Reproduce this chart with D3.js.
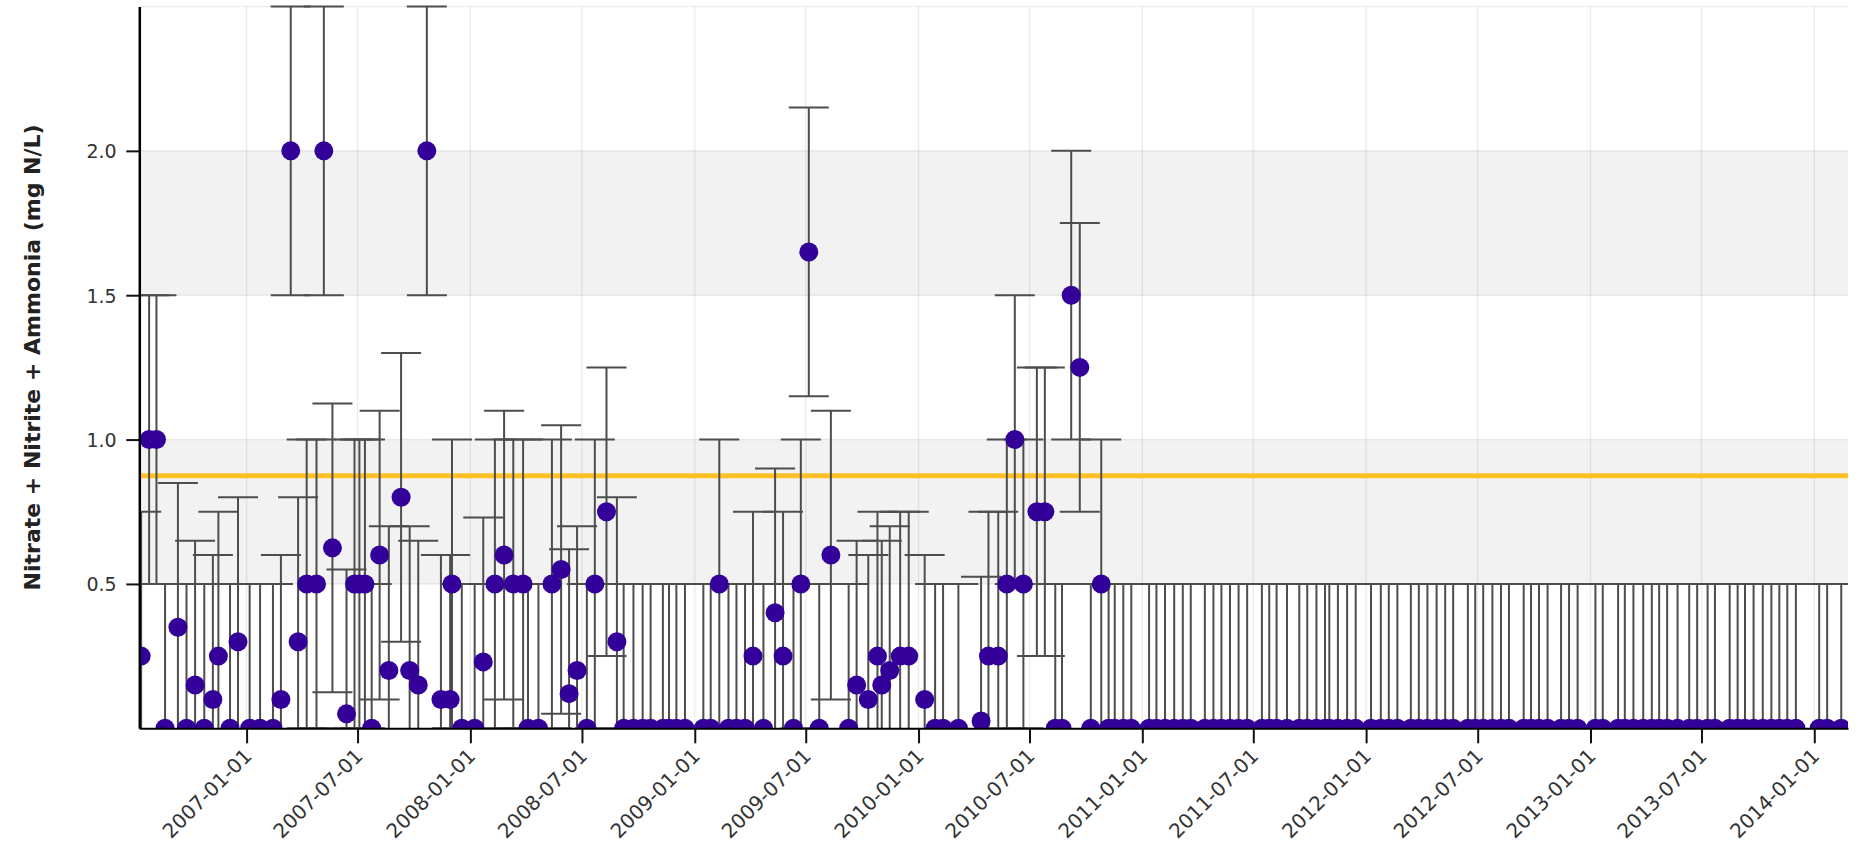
<!DOCTYPE html>
<html>
<head>
<meta charset="utf-8">
<script src="https://cdn.jsdelivr.net/npm/d3@7"></script>
<style>
  html, body { margin: 0; padding: 0; background: #ffffff; }
  svg { display: block; }
</style>
</head>
<body>
<svg id="chart" width="1858" height="850"></svg>
<script>
// ---------------- DATA ----------------
const dates2006  = ["2006-07-13","2006-07-26","2006-08-07","2006-08-21","2006-09-11","2006-09-25","2006-10-09","2006-10-24","2006-11-07","2006-11-16","2006-12-05","2006-12-18"];
const values2006 = [0.25, 1.0, 1.0, 0, 0.35, 0, 0.15, 0, 0.1, 0.25, 0, 0.3];

const dates2007  = ["2007-01-06","2007-01-23","2007-02-13","2007-02-26","2007-03-14","2007-03-26","2007-04-09","2007-04-25","2007-05-07","2007-05-21","2007-06-13","2007-06-26","2007-07-04","2007-07-13","2007-07-24","2007-08-06","2007-08-21","2007-09-10","2007-09-24","2007-10-08","2007-10-22","2007-11-14","2007-11-29","2007-12-02","2007-12-18"];
const values2007 = [0, 0, 0, 0.1, 2.0, 0.3, 0.5, 0.5, 2.0, 0.625, 0.05, 0.5, 0.5, 0.5, 0, 0.6, 0.2, 0.8, 0.2, 0.15, 2.0, 0.1, 0.1, 0.5, 0];

const dates2008  = ["2008-01-08","2008-01-22","2008-02-10","2008-02-25","2008-03-11","2008-03-27","2008-04-04","2008-04-21","2008-05-13","2008-05-28","2008-06-10","2008-06-23","2008-07-09","2008-07-22","2008-08-10","2008-08-27","2008-09-07","2008-09-23","2008-10-08","2008-10-21","2008-11-10","2008-11-20","2008-12-02","2008-12-16"];
const values2008 = [0, 0.23, 0.5, 0.6, 0.5, 0.5, 0, 0, 0.5, 0.55, 0.12, 0.2, 0, 0.5, 0.75, 0.3, 0, 0, 0, 0, 0, 0, 0, 0];

const dates2009  = ["2009-01-15","2009-01-27","2009-02-10","2009-02-25","2009-03-10","2009-03-24","2009-04-06","2009-04-23","2009-05-12","2009-05-25","2009-06-11","2009-06-23","2009-07-06","2009-07-23","2009-08-11","2009-09-09","2009-09-22","2009-10-11","2009-10-26","2009-11-02","2009-11-15","2009-12-02","2009-12-16"];
const values2009 = [0, 0, 0.5, 0, 0, 0, 0.25, 0, 0.4, 0.25, 0, 0.5, 1.65, 0, 0.6, 0, 0.15, 0.1, 0.25, 0.15, 0.2, 0.25, 0.25];

const dates2010  = ["2010-01-11","2010-01-28","2010-02-10","2010-03-07","2010-04-13","2010-04-25","2010-05-11","2010-05-25","2010-06-07","2010-06-21","2010-07-13","2010-07-26","2010-08-12","2010-08-23","2010-09-07","2010-09-21","2010-10-09","2010-10-26","2010-11-07","2010-11-17","2010-12-01","2010-12-14"];
const values2010 = [0.1, 0, 0, 0, 0.025, 0.25, 0.25, 0.5, 1.0, 0.5, 0.75, 0.75, 0, 0, 1.5, 1.25, 0, 0.5, 0, 0, 0, 0];

const dates2011  = ["2011-01-12","2011-01-24","2011-02-07","2011-02-22","2011-03-08","2011-03-21","2011-04-13","2011-04-27","2011-05-10","2011-05-24","2011-06-07","2011-06-21","2011-07-15","2011-07-27","2011-08-08","2011-08-25","2011-09-14","2011-09-27","2011-10-12","2011-10-26","2011-11-02","2011-11-16","2011-12-01","2011-12-15"];
const values2011 = [0,0,0,0,0,0,0,0,0,0,0,0,0,0,0,0,0,0,0,0,0,0,0,0];

const dates2012  = ["2012-01-09","2012-01-25","2012-02-07","2012-02-21","2012-03-14","2012-03-27","2012-04-10","2012-04-25","2012-05-09","2012-05-22","2012-06-15","2012-06-27","2012-07-10","2012-07-25","2012-08-08","2012-08-21","2012-09-14","2012-09-26","2012-10-09","2012-10-23","2012-11-14","2012-11-27","2012-12-11"];
const values2012 = [0,0,0,0,0,0,0,0,0,0,0,0,0,0,0,0,0,0,0,0,0,0,0];

const dates2013  = ["2013-01-09","2013-01-21","2013-02-15","2013-02-26","2013-03-12","2013-03-28","2013-04-11","2013-04-23","2013-05-06","2013-05-23","2013-06-11","2013-06-24","2013-07-11","2013-07-23","2013-08-16","2013-08-29","2013-09-10","2013-09-24","2013-10-09","2013-10-23","2013-11-05","2013-11-18","2013-12-02"];
const values2013 = [0,0,0,0,0,0,0,0,0,0,0,0,0,0,0,0,0,0,0,0,0,0,0];

const dates2014  = ["2014-01-09","2014-01-22","2014-02-14"];
const values2014 = [0, 0, 0];

const errorHalfWidth = 0.5;          // every error bar spans value ± 0.5
const guidelineValue = 0.875;        // orange reference line
const xTickDates = ["2007-01-01","2007-07-01","2008-01-01","2008-07-01","2009-01-01","2009-07-01","2010-01-01","2010-07-01","2011-01-01","2011-07-01","2012-01-01","2012-07-01","2013-01-01","2013-07-01","2014-01-01"];
const yTickValues = [0.5, 1.0, 1.5, 2.0];
const yGridValues = [0.5, 1.0, 1.5, 2.0, 2.5];
const yBands = [[0.5, 1.0], [1.5, 2.0]];
const xDomainDates = ["2006-07-10", "2014-02-25"];
const yDomainValues = [0, 2.5];
const yTitle = "Nitrate + Nitrite + Ammonia (mg N/L)";

// ---------------- LAYOUT ----------------
const W = 1858, H = 850;
const plotLeft = 139.3, plotRight = 1848, plotTop = 6.5, plotBottom = 728.3;
const FONT = "'DejaVu Sans', Verdana, sans-serif";

const parse = d3.utcParse("%Y-%m-%d");
const allDates = [].concat(dates2006, dates2007, dates2008, dates2009, dates2010, dates2011, dates2012, dates2013, dates2014);
const allValues = [].concat(values2006, values2007, values2008, values2009, values2010, values2011, values2012, values2013, values2014);
const data = allDates.map((d, i) => ({ date: parse(d), value: allValues[i] }));

const x = d3.scaleUtc().domain(xDomainDates.map(parse)).range([plotLeft, plotRight]);
const y = d3.scaleLinear().domain(yDomainValues).range([plotBottom, plotTop]);

const svg = d3.select("#chart");
svg.append("rect").attr("width", W).attr("height", H).attr("fill", "#ffffff");

// bands
svg.append("g").selectAll("rect").data(yBands).join("rect")
  .attr("x", plotLeft).attr("width", plotRight - plotLeft)
  .attr("y", d => y(d[1])).attr("height", d => y(d[0]) - y(d[1]))
  .attr("fill", "#f2f2f2");

// grid lines
const grid = svg.append("g");
grid.selectAll("line.v").data(xTickDates.map(parse)).join("line")
  .attr("class", "v")
  .attr("x1", d => x(d)).attr("x2", d => x(d))
  .attr("y1", plotTop).attr("y2", plotBottom)
  .attr("stroke", "rgba(0,0,0,0.07)").attr("stroke-width", 1.5);
grid.selectAll("line.h").data(yGridValues).join("line")
  .attr("class", "h")
  .attr("x1", plotLeft).attr("x2", plotRight)
  .attr("y1", d => y(d)).attr("y2", d => y(d))
  .attr("stroke", "rgba(0,0,0,0.07)").attr("stroke-width", 1.5);

// guideline
svg.append("line")
  .attr("x1", plotLeft).attr("x2", plotRight)
  .attr("y1", y(guidelineValue)).attr("y2", y(guidelineValue))
  .attr("stroke", "#ffc125").attr("stroke-width", 5);

// clip
svg.append("clipPath").attr("id", "plotClip").append("rect")
  .attr("x", plotLeft).attr("y", plotTop - 3)
  .attr("width", plotRight - plotLeft).attr("height", plotBottom - plotTop + 3);

const marks = svg.append("g").attr("clip-path", "url(#plotClip)");
const capHalf = 20;
const eb = marks.append("g").attr("stroke", "#4d4d4d").attr("stroke-width", 2).attr("fill", "none");
eb.selectAll("line.stem").data(data).join("line").attr("class", "stem")
  .attr("x1", d => x(d.date)).attr("x2", d => x(d.date))
  .attr("y1", d => y(d.value - errorHalfWidth)).attr("y2", d => y(d.value + errorHalfWidth));
eb.selectAll("line.capHi").data(data).join("line").attr("class", "capHi")
  .attr("x1", d => x(d.date) - capHalf).attr("x2", d => x(d.date) + capHalf)
  .attr("y1", d => y(d.value + errorHalfWidth)).attr("y2", d => y(d.value + errorHalfWidth));
eb.selectAll("line.capLo").data(data).join("line").attr("class", "capLo")
  .attr("x1", d => x(d.date) - capHalf).attr("x2", d => x(d.date) + capHalf)
  .attr("y1", d => y(d.value - errorHalfWidth)).attr("y2", d => y(d.value - errorHalfWidth));

marks.append("g").selectAll("circle").data(data).join("circle")
  .attr("cx", d => x(d.date)).attr("cy", d => y(d.value))
  .attr("r", 9.5).attr("fill", "#330099");

// axes
const gx = svg.append("g").attr("transform", `translate(0,${plotBottom})`)
  .call(d3.axisBottom(x).tickValues(xTickDates.map(parse))
    .tickFormat(d3.utcFormat("%Y-%m-%d")).tickSize(15).tickSizeOuter(0));
gx.select(".domain").attr("stroke", "#000").attr("stroke-width", 2);
gx.selectAll(".tick line").attr("stroke", "#111").attr("stroke-width", 2);
gx.selectAll(".tick text")
  .attr("x", 0).attr("y", 0).attr("dy", 0)
  .attr("transform", "translate(6,29) rotate(-45)")
  .attr("text-anchor", "end")
  .attr("font-family", FONT).attr("font-size", 20).attr("fill", "#333");

const gy = svg.append("g").attr("transform", `translate(${plotLeft},0)`)
  .call(d3.axisLeft(y).tickValues(yTickValues).tickFormat(d3.format(".1f"))
    .tickSize(13).tickPadding(9.7).tickSizeOuter(0));
gy.select(".domain").attr("stroke", "#000").attr("stroke-width", 2.5);
gy.selectAll(".tick line").attr("stroke", "#111").attr("stroke-width", 2);
gy.selectAll(".tick text")
  .attr("dy", "0.36em")
  .attr("font-family", FONT).attr("font-size", 19).attr("fill", "#333");

svg.append("text")
  .attr("transform", `translate(39.5,${(plotTop + plotBottom) / 2 - 10}) rotate(-90)`)
  .attr("text-anchor", "middle")
  .attr("font-family", FONT).attr("font-weight", "bold").attr("font-size", 22)
  .attr("fill", "#222")
  .text(yTitle);
</script>
</body>
</html>
